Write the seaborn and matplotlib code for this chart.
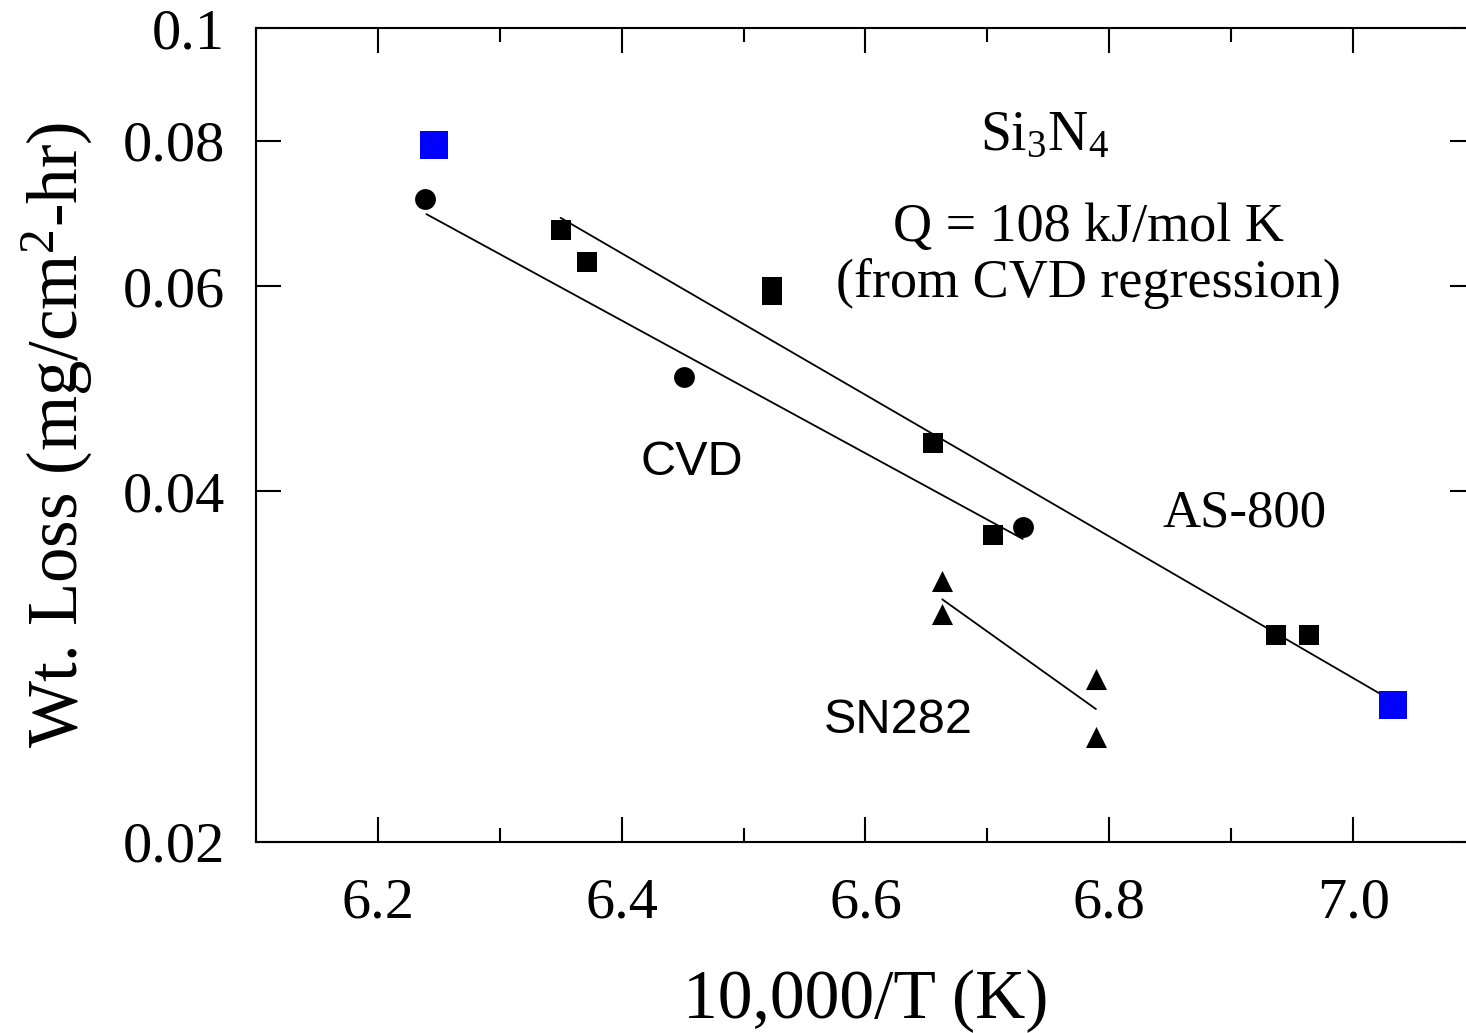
import matplotlib
matplotlib.use("Agg")
import matplotlib.pyplot as plt
from matplotlib.ticker import FixedLocator, MultipleLocator, NullLocator
import seaborn as sns

# data (x = 10,000/T, y = weight loss rate)
as800_x = [6.350, 6.372, 6.523, 6.523, 6.655, 6.705, 6.937, 6.964]
as800_y = [0.0670, 0.0630, 0.0599, 0.0590, 0.0440, 0.0367, 0.0301, 0.0301]
cvd_x = [6.239, 6.451, 6.729]
cvd_y = [0.0713, 0.0501, 0.0373]
sn282_x = [6.663, 6.663, 6.789, 6.789]
sn282_y = [0.0335, 0.0314, 0.0276, 0.0246]
blue_x = [6.246, 7.033]
blue_y = [0.0793, 0.0262]

cvd_fit_x = [6.240, 6.729]
cvd_fit_y = [0.0692, 0.0364]
as800_fit_x = [6.350, 7.022]
as800_fit_y = [0.0687, 0.0268]
sn282_fit_x = [6.663, 6.789]
sn282_fit_y = [0.0323, 0.0260]

x_ticks = [6.2, 6.4, 6.6, 6.8, 7.0]
x_labels = ["6.2", "6.4", "6.6", "6.8", "7.0"]
y_ticks = [0.02, 0.04, 0.06, 0.08, 0.1]
y_labels = ["0.02", "0.04", "0.06", "0.08", "0.1"]

sns.set_theme(style="ticks")
plt.rcParams["font.family"] = ["Liberation Serif", "DejaVu Serif"]
plt.rcParams["mathtext.fontset"] = "custom"
plt.rcParams["mathtext.rm"] = "Liberation Serif"
plt.rcParams["mathtext.it"] = "Liberation Serif:italic"
plt.rcParams["mathtext.default"] = "regular"
for key in ["text.color", "axes.labelcolor", "xtick.color", "ytick.color", "axes.edgecolor"]:
    plt.rcParams[key] = "black"

W, H = 1466, 1033
fig = plt.figure(figsize=(W / 100, H / 100), dpi=100)
ax = fig.add_axes([255.7 / W, 1 - 841.7 / H, 1219.5 / W, 813.7 / H])

for xs, ys in [(cvd_fit_x, cvd_fit_y), (as800_fit_x, as800_fit_y), (sn282_fit_x, sn282_fit_y)]:
    sns.lineplot(x=xs, y=ys, color="black", linewidth=1.3, ax=ax, legend=False)

sns.scatterplot(x=as800_x, y=as800_y, marker="s", s=207, color="black", linewidth=0, ax=ax, zorder=3)
sns.scatterplot(x=cvd_x, y=cvd_y, marker="o", s=225, color="black", linewidth=0, ax=ax, zorder=3)
sns.scatterplot(x=sn282_x, y=sn282_y, marker="^", s=230, color="black", linewidth=0, ax=ax, zorder=3)
sns.scatterplot(x=blue_x, y=blue_y, marker="s", s=400, color="#0000ff", linewidth=0, ax=ax, zorder=4)

ax.set_yscale("log")
ax.set_xlim(6.1, 7.1)
ax.set_ylim(0.02, 0.1)
ax.xaxis.set_major_locator(FixedLocator(x_ticks))
ax.set_xticklabels(x_labels)
ax.xaxis.set_minor_locator(MultipleLocator(0.1))
ax.yaxis.set_major_locator(FixedLocator(y_ticks))
ax.yaxis.set_minor_locator(NullLocator())
ax.set_yticklabels(y_labels)

ax.tick_params(which="both", direction="in", top=True, right=True, width=1.5, colors="black")
ax.tick_params(which="major", length=18, labelsize=42)
ax.tick_params(which="minor", length=10)
ax.tick_params(axis="x", which="major", pad=26)
ax.tick_params(axis="y", which="major", pad=22)
for sp in ax.spines.values():
    sp.set_linewidth(1.5)
    sp.set_color("black")

ax.set_xlabel("10,000/T (K)", fontsize=50, labelpad=29)
ax.set_ylabel("Wt. Loss (mg/cm$^2$-hr)", fontsize=51, labelpad=20)

ax.text(6.747, 0.0786, "Si$_3$N$_4$", fontsize=40, ha="center", va="baseline")
ax.text(6.7825, 0.0656, "Q = 108 kJ/mol K", fontsize=39, ha="center", va="baseline")
ax.text(6.7825, 0.0587, "(from CVD regression)", fontsize=39, ha="center", va="baseline")
ax.text(6.9106, 0.03732, "AS-800", fontsize=38, ha="center", va="baseline")
ax.text(6.4573, 0.0413, "CVD", fontsize=35, ha="center", va="baseline", family="Liberation Sans")
ax.text(6.6267, 0.02478, "SN282", fontsize=35, ha="center", va="baseline", family="Liberation Sans")

fig.savefig("out.png", dpi=100)
